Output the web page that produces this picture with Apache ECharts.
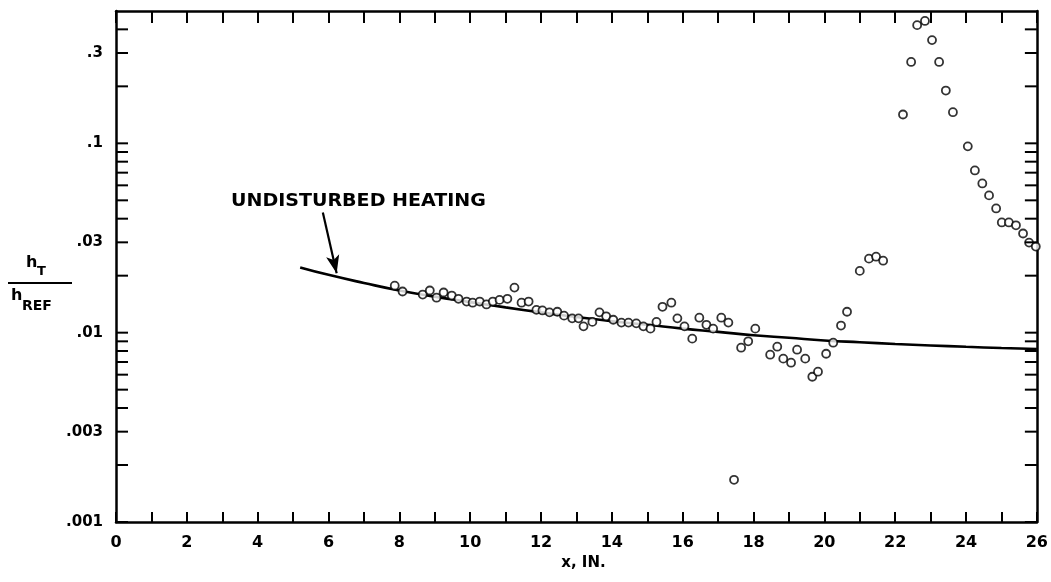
<!DOCTYPE html>
<html>
<head>
<meta charset="utf-8">
<script src="https://cdn.jsdelivr.net/npm/echarts@6/dist/echarts.min.js"></script>
<style>
  html, body { margin: 0; padding: 0; background: #fff; }
  #chart { width: 1051px; height: 582px; }
</style>
</head>
<body>
<div id="chart"></div>
<script>
// Measured heat-transfer ratio along the model (open circles)
const pointX = [7.87, 8.09, 8.66, 8.86, 9.05, 9.25, 9.48, 9.67, 9.90, 10.07,
  10.27, 10.46, 10.64, 10.83, 11.05, 11.25, 11.45, 11.65, 11.87, 12.04,
  12.24, 12.46, 12.65, 12.88, 13.06, 13.20, 13.45, 13.65, 13.84, 14.04,
  14.27, 14.47, 14.69, 14.89, 15.09, 15.26, 15.43, 15.68, 15.85, 16.05,
  16.27, 16.47, 16.67, 16.86, 17.09, 17.29, 17.45, 17.65, 17.85, 18.05,
  18.47, 18.67, 18.84, 19.06, 19.23, 19.46, 19.66, 19.82, 20.05, 20.25,
  20.47, 20.64, 21.00, 21.26, 21.46, 21.66, 22.22, 22.45, 22.62, 22.84,
  23.04, 23.24, 23.43, 23.63, 24.05, 24.25, 24.46, 24.65, 24.85, 25.01,
  25.21, 25.41, 25.61, 25.78, 25.97];
const pointH = [0.0177, 0.0165, 0.0159, 0.0167, 0.0153, 0.0163, 0.0157, 0.0151, 0.0146, 0.0144,
  0.0146, 0.0141, 0.0146, 0.0149, 0.0151, 0.0173, 0.0144, 0.0146, 0.0132, 0.0131,
  0.0128, 0.0129, 0.0123, 0.0119, 0.0119, 0.0108, 0.0114, 0.0128, 0.0122, 0.0117,
  0.0113, 0.0113, 0.0112, 0.0108, 0.0105, 0.0114, 0.0137, 0.0144, 0.0119, 0.0108,
  0.0093, 0.0120, 0.0110, 0.0105, 0.0120, 0.0113, 0.00167, 0.00833, 0.0090, 0.0105,
  0.00765, 0.00843, 0.00729, 0.00694, 0.00813, 0.00729, 0.00585, 0.00622, 0.00774, 0.00885,
  0.0109, 0.0129, 0.0212, 0.0246, 0.0252, 0.0240, 0.142, 0.269, 0.421, 0.443,
  0.351, 0.269, 0.190, 0.146, 0.0964, 0.0719, 0.0614, 0.0531, 0.0453, 0.0382,
  0.0382, 0.0369, 0.0334, 0.0299, 0.0285];

// Undisturbed heating curve
const curveX = [5.2, 6, 7, 8, 9, 10, 11, 12, 13, 14, 15, 16, 17, 18, 19, 20, 21, 22, 23, 24, 25, 26];
const curveH = [0.0221, 0.0202, 0.0183, 0.0167, 0.0155, 0.0145, 0.0136, 0.0128, 0.0121, 0.0115,
  0.0110, 0.0105, 0.0101, 0.0097, 0.0094, 0.0091, 0.00890, 0.00872, 0.00856, 0.00842, 0.00830, 0.00820];

// Axis ranges, ticks and labels
const xMin = 0, xMax = 26;
const yMin = 0.001, yMax = 0.5;
const xLabelValues = [0, 2, 4, 6, 8, 10, 12, 14, 16, 18, 20, 22, 24, 26];
const yTickValues = [0.001, 0.002, 0.003, 0.004, 0.005, 0.006, 0.007, 0.008, 0.009,
  0.01, 0.02, 0.03, 0.04, 0.05, 0.06, 0.07, 0.08, 0.09,
  0.1, 0.2, 0.3, 0.4];
const yLabelValues = [0.001, 0.003, 0.01, 0.03, 0.1, 0.3];
const yLabelTexts = ['.001', '.003', '.01', '.03', '.1', '.3'];

// Arrow of the annotation: tail and head in data coordinates
const arrowTail = [5.84, 0.0431];
const arrowHead = [6.23, 0.0206];

const FONT = '"DejaVu Sans", "Liberation Sans", Arial, sans-serif';
const INK = '#000';
const Y_TICK_LEN = 12;

const chart = echarts.init(document.getElementById('chart'), null, { renderer: 'canvas' });

// Inward log-scale ticks on the left and right frame edges
function renderYTicks(params, api) {
  const v = api.value(1);
  const l = api.coord([xMin, v]);
  const r = api.coord([xMax, v]);
  return {
    type: 'group',
    children: [
      { type: 'line', shape: { x1: l[0], y1: l[1], x2: l[0] + Y_TICK_LEN, y2: l[1] },
        style: { stroke: INK, lineWidth: 2 } },
      { type: 'line', shape: { x1: r[0] - Y_TICK_LEN, y1: r[1], x2: r[0], y2: r[1] },
        style: { stroke: INK, lineWidth: 2 } }
    ]
  };
}

function yLabel(v) {
  const i = yLabelValues.findIndex(function (t) { return Math.abs(t - v) / t < 1e-6; });
  return i >= 0 ? yLabelTexts[i] : '';
}

chart.setOption({
  animation: false,
  grid: { left: 116, right: 13, top: 11, bottom: 60 },
  xAxis: [
    {
      type: 'value', min: xMin, max: xMax, interval: 1, position: 'bottom',
      name: 'x, IN.', nameLocation: 'middle', nameGap: 34,
      nameTextStyle: { color: INK, fontFamily: FONT, fontWeight: 'bold', fontSize: 15, padding: [0, 0, 0, 14] },
      axisLine: { onZero: false, lineStyle: { color: INK, width: 2.5 } },
      axisTick: { inside: true, length: 10, lineStyle: { width: 2 } },
      axisLabel: { customValues: xLabelValues, margin: 13,
        color: INK, fontFamily: FONT, fontWeight: 'bold', fontSize: 16 },
      splitLine: { show: false }
    },
    {
      type: 'value', min: xMin, max: xMax, interval: 1, position: 'top',
      axisLine: { onZero: false, lineStyle: { color: INK, width: 2.5 } },
      axisTick: { inside: true, length: 12, lineStyle: { width: 2 } },
      axisLabel: { show: false },
      splitLine: { show: false }
    }
  ],
  yAxis: [
    {
      type: 'log', min: yMin, max: yMax, position: 'left',
      axisLine: { show: true, onZero: false, lineStyle: { color: INK, width: 2.5 } },
      axisTick: { show: false },
      axisLabel: { customValues: yLabelValues, margin: 13, formatter: yLabel,
        color: INK, fontFamily: FONT, fontWeight: 'bold', fontSize: 15 },
      splitLine: { show: false }, minorTick: { show: false }
    },
    {
      type: 'log', min: yMin, max: yMax, position: 'right',
      axisLine: { show: true, onZero: false, lineStyle: { color: INK, width: 2.5 } },
      axisTick: { show: false }, axisLabel: { show: false },
      splitLine: { show: false }, minorTick: { show: false }
    }
  ],
  series: [
    {
      type: 'custom', silent: true, clip: false,
      data: yTickValues.map(function (v) { return [xMin, v]; }),
      renderItem: renderYTicks, z: 5
    },
    {
      name: 'UNDISTURBED HEATING',
      type: 'line',
      data: curveX.map(function (x, i) { return [x, curveH[i]]; }),
      smooth: true,
      showSymbol: false,
      lineStyle: { color: INK, width: 2.6 },
      z: 2,
      markLine: {
        silent: true,
        symbol: ['none', 'arrow'],
        symbolSize: [10, 18],
        label: { show: false },
        lineStyle: { color: INK, width: 2.2, type: 'solid' },
        data: [[{ coord: arrowTail }, { coord: arrowHead }]]
      }
    },
    {
      name: 'h_T / h_REF',
      type: 'scatter',
      data: pointX.map(function (x, i) { return [x, pointH[i]]; }),
      symbol: 'circle',
      symbolSize: 8,
      itemStyle: { color: '#fff', borderColor: INK, borderWidth: 1.8 },
      z: 3
    }
  ],
  graphic: [
    // annotation text
    {
      type: 'text', x: 231, y: 193, scaleX: 1.12,
      style: { text: 'UNDISTURBED HEATING', fill: INK, font: 'bold 17px ' + FONT }
    },
    // y-axis title: h_T over h_REF
    { type: 'text', x: 26, y: 255, style: { text: 'h', fill: INK, font: 'bold 16px ' + FONT } },
    { type: 'text', x: 37, y: 265, style: { text: 'T', fill: INK, font: 'bold 13px ' + FONT } },
    { type: 'line', shape: { x1: 8, y1: 283, x2: 72, y2: 283 }, style: { stroke: INK, lineWidth: 2 } },
    { type: 'text', x: 11, y: 288, style: { text: 'h', fill: INK, font: 'bold 16px ' + FONT } },
    { type: 'text', x: 22, y: 299, style: { text: 'REF', fill: INK, font: 'bold 14px ' + FONT } }
  ]
});
</script>
</body>
</html>
